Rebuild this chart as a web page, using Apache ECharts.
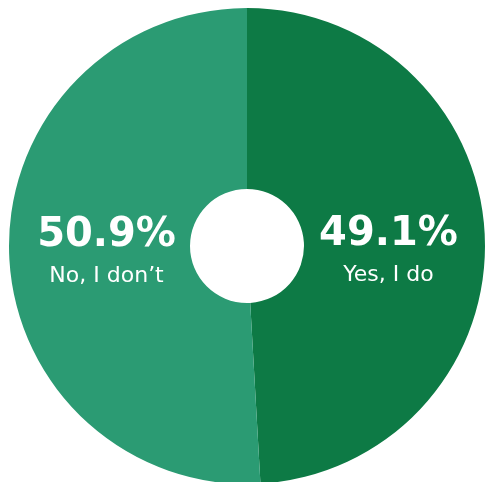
<!DOCTYPE html>
<html>
<head>
<meta charset="utf-8">
<script src="https://cdn.jsdelivr.net/npm/echarts@6/dist/echarts.min.js"></script>
<style>
  html, body { margin: 0; padding: 0; background: #fff; }
  #chart { width: 485px; height: 482px; }
</style>
</head>
<body>
<div id="chart"></div>
<script>
const answers = ['Yes, I do', 'No, I don’t'];
const shares = [49.1, 50.9];
const colors = ['#0d7a45', '#2b9b73'];
const labelShift = [[-9, 12], [10, 4]];

let chart = echarts.init(document.getElementById('chart'));
chart.setOption({
    animation: false,
    series: [
        {
            type: 'pie',
            center: [247, 246],
            radius: [57, 238],
            startAngle: 90,
            clockwise: true,
            label: {
                show: true,
                position: 'inside',
                formatter: p => '{pct|' + p.value.toFixed(1) + '%}\n{name|' + p.name + '}',
                rich: {
                    pct: {
                        fontFamily: 'DejaVu Sans',
                        fontWeight: 'bold',
                        fontSize: 40,
                        color: '#fff',
                        lineHeight: 44
                    },
                    name: {
                        fontFamily: 'DejaVu Sans',
                        fontSize: 22,
                        color: '#fff',
                        lineHeight: 38
                    }
                }
            },
            labelLine: { show: false },
            itemStyle: { borderWidth: 0 },
            emphasis: { disabled: true },
            data: answers.map((n, i) => ({
                name: n,
                value: shares[i],
                itemStyle: { color: colors[i] },
                label: { offset: labelShift[i] }
            }))
        }
    ]
});
</script>
</body>
</html>
